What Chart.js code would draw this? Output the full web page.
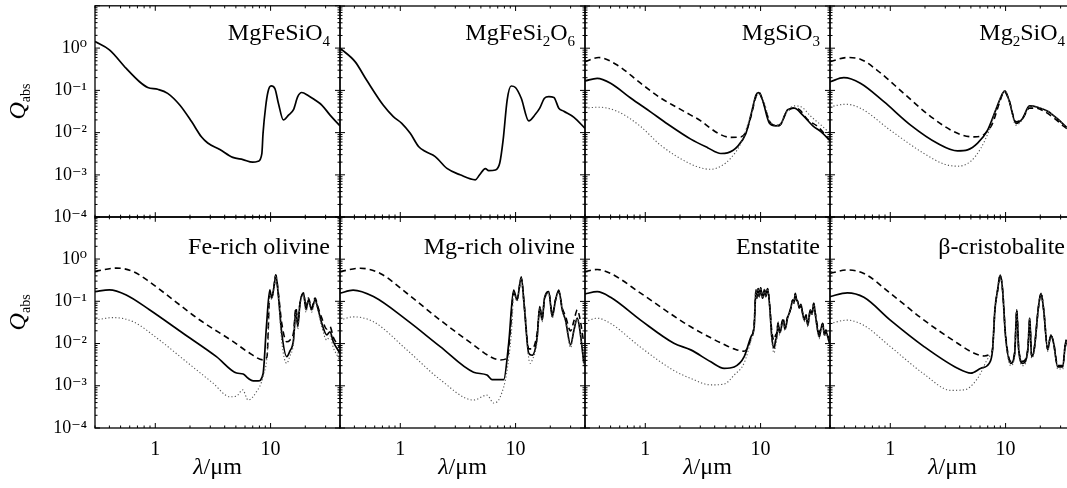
<!DOCTYPE html>
<html><head><meta charset="utf-8">
<script src="https://cdn.jsdelivr.net/npm/chart.js@4.4.1/dist/chart.umd.min.js"></script>
<style>
html,body{margin:0;padding:0;background:#fff;overflow:hidden;width:1067px;height:488px;position:relative}
canvas{position:absolute}
</style></head><body>
<script>
// ---------- tick labels ----------
const X_LABELS = [1, 10];
const X_MINOR = [0.3,0.4,0.5,0.6,0.7,0.8,0.9,2,3,4,5,6,7,8,9,20,30,40];
const Y_LABELS = [1e-4, 1e-3, 1e-2, 1e-1, 1];
const Y_MAJOR = [1e-4, 1e-3, 1e-2, 1e-1, 1, 10];

// ---------- panel 1: MgFeSiO4 ----------
const p1_solid_lam = [0.3,0.40,0.56,0.73,0.86,1.05,1.28,1.63,2.07,2.51,2.85,3.63,4.7,5.76,7.0,7.8,8.4,8.6,9.06,9.5,10.1,10.9,11.7,12.9,14.3,15.8,17.2,18.6,21.3,24.3,27.8,32.8,40];
const p1_solid_q   = [1.43,0.91,0.33,0.16,0.117,0.106,0.085,0.045,0.018,0.008,0.0057,0.0040,0.0026,0.0023,0.0020,0.0021,0.0032,0.0096,0.041,0.093,0.127,0.11,0.049,0.020,0.026,0.035,0.071,0.089,0.075,0.059,0.045,0.026,0.0145];

// ---------- panel 2: MgFeSi2O6 ----------
const p2_solid_lam = [0.3,0.405,0.51,0.71,0.87,1.03,1.22,1.44,1.64,2.01,2.54,3.3,4.47,4.88,5.47,5.84,6.68,7.29,7.8,8.45,9.15,9.97,11.2,13.0,14.9,16.2,17.8,19.4,21.5,23.7,26.2,32.1,40];
const p2_solid_q   = [1.0,0.48,0.176,0.045,0.024,0.0166,0.0096,0.0047,0.0036,0.0027,0.00142,0.0010,0.00076,0.0010,0.0014,0.00125,0.0013,0.0019,0.0067,0.059,0.127,0.117,0.065,0.019,0.0275,0.038,0.065,0.071,0.068,0.038,0.032,0.023,0.0126];

// ---------- panel 3: MgSiO3 ----------
const p3_dash_lam = [0.3,0.395,0.57,0.91,1.36,1.9,2.48,3.03,3.70,4.52,5.52,6.75,7.46,8.25,9.12,9.73,10.4,12.3,14.5,16.6,19.0,21.7,25.7,31.4,40];
const p3_dash_q   = [0.48,0.6,0.40,0.148,0.066,0.039,0.026,0.019,0.0125,0.0089,0.0077,0.0079,0.0104,0.024,0.071,0.089,0.059,0.0166,0.0145,0.029,0.038,0.035,0.020,0.0138,0.0065];
const p3_solid_lam = [0.3,0.383,0.50,0.746,1.11,1.56,2.48,3.47,4.52,5.17,6.32,7.46,8.25,9.12,9.62,10.4,11.9,13.6,15.0,17.2,19.6,23.2,28.4,33.5,40];
const p3_solid_q   = [0.167,0.193,0.148,0.066,0.031,0.016,0.0070,0.0044,0.0032,0.0033,0.0047,0.0096,0.026,0.078,0.089,0.059,0.017,0.0145,0.0161,0.035,0.038,0.026,0.0145,0.0104,0.0065];
const p3_dot_lam = [0.3,0.395,0.57,0.91,1.36,2.48,3.24,3.70,4.52,5.52,6.75,7.97,9.12,9.73,10.8,12.3,14.5,16.6,19.6,22.4,27.4,33.5,40];
const p3_dot_q   = [0.038,0.040,0.032,0.014,0.005,0.0018,0.0014,0.00135,0.0016,0.0025,0.0056,0.020,0.071,0.085,0.049,0.0166,0.015,0.029,0.043,0.041,0.024,0.015,0.0096];

// ---------- panel 4: Mg2SiO4 ----------
const p4_dash_lam = [0.3,0.424,0.55,0.77,1.31,2.24,3.83,5.34,6.52,7.71,8.8,9.73,10.7,12.3,14.1,16.1,18.4,21.6,26.4,32.3,40];
const p4_dash_q   = [0.48,0.6,0.55,0.30,0.085,0.024,0.0096,0.0079,0.0091,0.0166,0.049,0.093,0.059,0.018,0.022,0.038,0.038,0.032,0.022,0.0138,0.0095];
const p4_solid_lam = [0.3,0.395,0.55,0.88,1.50,2.56,3.83,4.68,5.72,6.98,8.24,9.42,9.87,10.7,12.3,14.1,16.1,19.0,23.2,28.3,34.6,40];
const p4_solid_q   = [0.16,0.20,0.148,0.054,0.0151,0.0056,0.0037,0.0039,0.0056,0.0114,0.035,0.085,0.098,0.059,0.0166,0.022,0.043,0.040,0.032,0.021,0.0126,0.0095];
const p4_dot_lam = [0.3,0.41,0.55,1.0,1.96,2.93,3.83,5.0,6.11,7.21,8.24,9.42,9.87,10.7,12.3,14.1,16.1,19.0,23.2,28.3,34.6,40];
const p4_dot_q   = [0.041,0.047,0.038,0.0114,0.0032,0.0018,0.0016,0.0021,0.0043,0.0114,0.035,0.085,0.098,0.059,0.015,0.021,0.042,0.040,0.032,0.021,0.0122,0.0085];

// ---------- panel 5: Fe-rich olivine ----------
const p5_dash_lam = [0.3,0.46,0.64,0.89,1.43,2.43,4.74,6.6,8.6,9.3,9.85,10.2,10.7,11.1,11.7,12.5,13.8,14.7,15.8,16.6,17.2,18.0,19.3,20.3,21.3,22.7,24.3,25.9,27.8,30.7,32.8,35.0,40];
const p5_dash_q   = [0.51,0.61,0.51,0.29,0.108,0.036,0.0111,0.0059,0.0041,0.0048,0.15,0.119,0.22,0.42,0.15,0.03,0.011,0.012,0.018,0.07,0.03,0.09,0.156,0.07,0.12,0.07,0.12,0.07,0.04,0.022,0.025,0.014,0.008];
const p5_solid_lam = [0.3,0.40,0.56,0.89,1.74,3.39,5.07,5.78,6.39,7.06,7.8,8.6,9.2,9.85,10.2,10.7,11.1,11.7,12.5,13.8,14.7,15.8,16.6,17.2,18.0,19.3,20.3,21.3,22.7,24.3,25.9,27.8,30.7,32.8,35.0,40];
const p5_solid_q   = [0.17,0.186,0.141,0.063,0.0175,0.0049,0.0020,0.0019,0.0015,0.0013,0.0013,0.0019,0.025,0.186,0.119,0.22,0.42,0.13,0.0175,0.0049,0.0066,0.012,0.063,0.025,0.090,0.156,0.063,0.108,0.063,0.108,0.063,0.030,0.016,0.019,0.011,0.0059];
const p5_dot_lam = [0.3,0.43,0.64,1.09,1.86,3.17,4.43,5.07,5.72,6.39,7.56,8.6,9.5,9.85,10.2,10.7,11.1,11.7,12.5,13.8,14.7,15.8,16.6,17.2,18.0,19.3,20.3,21.3,22.7,24.3,25.9,27.8,30.7,32.8,35.0,40];
const p5_dot_q   = [0.036,0.041,0.033,0.012,0.0037,0.00115,0.00055,0.00057,0.0008,0.00046,0.00073,0.00166,0.010,0.15,0.11,0.2,0.4,0.12,0.011,0.0034,0.005,0.01,0.055,0.022,0.08,0.14,0.055,0.1,0.055,0.1,0.055,0.025,0.012,0.015,0.008,0.004];

// ---------- panel 6: Mg-rich olivine ----------
const p6_dash_lam = [0.3,0.45,0.67,1.14,2.22,4.32,6.04,7.37,8.45,9.0,9.62,10.3,11.2,11.9,13.0,13.9,15.4,16.2,17.0,17.8,19.4,20.8,22.2,23.7,25.4,27.1,30,32.1,34.3,36.1,39.1];
const p6_dash_q   = [0.51,0.61,0.46,0.156,0.036,0.0093,0.0049,0.0041,0.0045,0.02,0.16,0.11,0.35,0.08,0.0075,0.0075,0.018,0.07,0.04,0.11,0.16,0.05,0.11,0.17,0.07,0.045,0.02,0.035,0.063,0.04,0.01];
const p6_solid_lam = [0.3,0.39,0.585,1.14,2.22,4.32,5.65,6.25,7.89,8.71,9.62,10.3,11.2,11.9,13.0,13.9,15.4,16.2,17.0,17.8,19.4,20.8,22.2,23.7,25.4,27.1,30,32.1,34.3,36.1,39.1];
const p6_solid_q   = [0.156,0.186,0.13,0.036,0.0085,0.0021,0.0018,0.0014,0.0014,0.010,0.186,0.108,0.38,0.075,0.0059,0.0053,0.0145,0.075,0.036,0.119,0.17,0.043,0.108,0.186,0.063,0.036,0.0093,0.021,0.040,0.021,0.0034];
const p6_dot_lam = [0.3,0.39,0.585,1.14,2.22,4.32,5.65,6.45,7.37,8.45,9.32,9.62,10.3,11.2,11.9,13.0,13.4,13.9,15.4,16.2,17.0,17.8,19.4,20.8,22.2,23.7,25.4,27.1,30,32.1,34.3,36.1,39.1];
const p6_dot_q   = [0.036,0.043,0.033,0.0071,0.0014,0.00046,0.0006,0.00039,0.00055,0.0024,0.03,0.16,0.1,0.36,0.07,0.0045,0.0034,0.004,0.012,0.07,0.033,0.11,0.16,0.04,0.1,0.17,0.06,0.033,0.008,0.02,0.038,0.02,0.003];

// ---------- panel 7: Enstatite ----------
const p7_lam = [0.3,0.383,0.50,0.91,1.77,2.48,3.70,4.83,5.90,7.21,8.25,8.8,9.12,9.3,9.53,9.75,10.0,10.4,10.8,11.1,11.5,12.0,12.5,13.1,13.5,13.8,14.2,14.6,15.0,15.4,15.9,16.2,16.6,17.1,17.7,18.3,19.0,19.5,20.0,20.5,21.0,21.7,22.4,23.2,24.0,24.8,25.7,26.3,27.0,27.9,28.9,29.6,30.3,31.3,32.3,33.4,34.6,35.7,36.9,39.5];
const p7_dash_q  = [0.51,0.57,0.46,0.157,0.045,0.025,0.0137,0.0095,0.0075,0.0066,0.013,0.03,0.186,0.12,0.2,0.13,0.21,0.12,0.19,0.13,0.2,0.08,0.02,0.012,0.016,0.018,0.032,0.02,0.024,0.034,0.038,0.025,0.028,0.042,0.052,0.07,0.108,0.09,0.156,0.11,0.099,0.07,0.085,0.052,0.04,0.048,0.03,0.042,0.063,0.05,0.09,0.06,0.04,0.024,0.018,0.024,0.030,0.019,0.021,0.012];
const p7_solid_q = [0.15,0.17,0.125,0.036,0.0102,0.0071,0.0037,0.0026,0.0028,0.0049,0.0145,0.025,0.186,0.12,0.2,0.13,0.21,0.12,0.19,0.13,0.2,0.075,0.0145,0.0078,0.012,0.0145,0.030,0.018,0.021,0.032,0.036,0.022,0.025,0.04,0.052,0.07,0.108,0.09,0.156,0.11,0.099,0.07,0.085,0.05,0.036,0.045,0.027,0.04,0.063,0.05,0.09,0.06,0.036,0.02,0.0145,0.022,0.030,0.016,0.019,0.0102];
const p7_dot_q   = [0.033,0.040,0.030,0.0082,0.0023,0.0015,0.00105,0.0011,0.0018,0.0035,0.012,0.025,0.186,0.12,0.2,0.13,0.21,0.12,0.19,0.13,0.2,0.07,0.012,0.006,0.009,0.012,0.028,0.016,0.02,0.03,0.034,0.02,0.024,0.038,0.05,0.068,0.105,0.088,0.15,0.105,0.095,0.068,0.08,0.047,0.033,0.042,0.025,0.038,0.06,0.047,0.085,0.055,0.033,0.018,0.013,0.02,0.028,0.015,0.017,0.009];

// ---------- panel 8: beta-cristobalite ----------
const p8_dash_lam = [0.3,0.424,0.59,1.0,1.96,3.83,5.34,6.52,7.46,7.71,8.08,8.53,8.98,9.42,10.0,11.1,12.0,12.5,13.0,14.1,15.6,16.2,16.8,17.7,19.3,20.3,21.4,23.2,24.7,26.1,28.3,31.3,33.4,36,40];
const p8_dash_q   = [0.46,0.555,0.46,0.156,0.036,0.0102,0.0059,0.0051,0.0059,0.0075,0.063,0.186,0.42,0.186,0.016,0.0038,0.0062,0.063,0.0075,0.0038,0.0075,0.040,0.0052,0.0075,0.075,0.156,0.063,0.0075,0.016,0.0105,0.003,0.003,0.012,0.0055,0.0045];
const p8_solid_lam = [0.3,0.424,0.59,1.0,1.96,3.83,5.0,6.11,7.21,7.71,8.08,8.53,8.98,9.42,10.0,11.1,12.0,12.5,13.0,14.1,15.6,16.2,16.8,17.7,19.3,20.3,21.4,23.2,24.7,26.1,28.3,31.3,33.4,36,40];
const p8_solid_q   = [0.13,0.16,0.125,0.036,0.0085,0.0026,0.002,0.0026,0.0034,0.0071,0.063,0.186,0.42,0.186,0.0145,0.0034,0.0059,0.063,0.0071,0.0034,0.0071,0.040,0.0049,0.0071,0.075,0.156,0.063,0.0071,0.016,0.0102,0.0028,0.0028,0.012,0.005,0.004];
const p8_dot_lam = [0.3,0.424,0.59,1.0,1.96,3.35,4.37,5.72,7.21,7.71,8.08,8.53,8.98,9.42,10.0,11.1,12.0,12.5,13.0,14.1,15.6,16.2,16.8,17.7,19.3,20.3,21.4,23.2,24.7,26.1,28.3,31.3,33.4,36,40];
const p8_dot_q   = [0.030,0.036,0.027,0.0085,0.0019,0.00078,0.0008,0.0015,0.0049,0.0071,0.063,0.186,0.42,0.186,0.013,0.003,0.0055,0.063,0.0065,0.003,0.0065,0.040,0.0045,0.0065,0.075,0.156,0.063,0.0065,0.016,0.0095,0.0025,0.0025,0.011,0.0045,0.0035];

// ---------- layout ----------
const LEFTS = [95, 340, 585, 830], TOPS = [6, 217], PW = 245, PH = 211;
const SERIF = '"Liberation Serif", "DejaVu Serif", serif';
const STYLES = {
  dash:  {borderColor:'#000', borderWidth:1.6, borderDash:[6,4]},
  solid: {borderColor:'#000', borderWidth:1.7, borderDash:[]},
  dot:   {borderColor:'#555', borderWidth:1.1, borderDash:[1.2,2.2]}
};
const SUP = {'0':'⁰','1':'¹','2':'²','3':'³','4':'⁴','-':'⁻'};
function supLabel(v){ const e = String(Math.round(Math.log10(v))); return '10' + e.split('').map(c=>SUP[c]).join(''); }

const framePlugin = {
  id:'frame',
  afterDatasetsDraw(chart){
    const {ctx, chartArea:{left,right,top,bottom}, scales:{x,y}} = chart;
    ctx.save();
    ctx.strokeStyle = '#000'; ctx.lineWidth = 1;
    const seg=(a,b,c,d)=>{ctx.beginPath();ctx.moveTo(a,b);ctx.lineTo(c,d);ctx.stroke();};
    X_LABELS.forEach(v=>{const p=x.getPixelForValue(v); seg(p,bottom,p,bottom-5); seg(p,top,p,top+5);});
    X_MINOR.forEach(v=>{const p=x.getPixelForValue(v); seg(p,bottom,p,bottom-2.5); seg(p,top,p,top+2.5);});
    Y_MAJOR.forEach(v=>{const p=y.getPixelForValue(v); seg(left,p,left+5,p); seg(right,p,right-5,p);});
    for (let e=-4; e<1; e++) for (let k=2; k<10; k++){ const p=y.getPixelForValue(k*Math.pow(10,e)); seg(left,p,left+2.5,p); seg(right,p,right-2.5,p); }
    ctx.lineWidth = 1.3;
    ctx.strokeRect(left, top, right-left, bottom-top);
    ctx.restore();
  }
};

const textPlugin = {
  id:'texts',
  afterDraw(chart, args, opts){
    const {ctx, chartArea:{left,right,top,bottom}} = chart;
    ctx.save(); ctx.fillStyle='#000';
    const parts = opts.label; const big = 24, small = 15;
    let total = 0;
    parts.forEach(p=>{ ctx.font = (p[1]?small:big)+'px '+SERIF; total += ctx.measureText(p[0]).width; });
    let xx = right - 10 - total; const base = top + opts.baseOff;
    ctx.textBaseline='alphabetic';
    parts.forEach(p=>{ ctx.font=(p[1]?small:big)+'px '+SERIF; ctx.fillText(p[0], xx, base + (p[1]?6:0)); xx += ctx.measureText(p[0]).width; });
    if (opts.ytitle){
      ctx.save();
      ctx.translate(25, (top+bottom)/2 - 10);
      ctx.rotate(-Math.PI/2);
      ctx.font = 'italic 24px '+SERIF;
      const wq = ctx.measureText('Q').width;
      ctx.font = '14px '+SERIF;
      const wa = ctx.measureText('abs').width;
      const start = -(wq+wa)/2;
      ctx.font = 'italic 24px '+SERIF; ctx.fillText('Q', start, 0);
      ctx.font = '14px '+SERIF; ctx.fillText('abs', start+wq, 5);
      ctx.restore();
    }
    if (opts.xtitle){
      ctx.font = 'italic 24px '+SERIF;
      const wl = ctx.measureText('λ').width;
      ctx.font = '24px '+SERIF;
      const wr = ctx.measureText('/μm').width;
      const cx = (left+right)/2, st = cx - (wl+wr)/2, by = bottom + 46;
      ctx.font = 'italic 24px '+SERIF; ctx.fillText('λ', st, by);
      ctx.font = '24px '+SERIF; ctx.fillText('/μm', st+wl, by);
    }
    ctx.restore();
  }
};

function buildChart(col, row, label, sets, w, h, padL, padR, padT, padB){
  const cv = document.createElement('canvas');
  cv.width = w; cv.height = h;
  cv.style.width = w+'px'; cv.style.height = h+'px';
  document.body.appendChild(cv);
  const chart = new Chart(cv, {
    type:'line',
    data:{ datasets: sets.map(s=>Object.assign({
      data: s.lam.map((v,i)=>({x:v, y:s.q[i]})),
      pointRadius:0, fill:false, cubicInterpolationMode:'monotone'
    }, STYLES[s.style])) },
    options:{
      responsive:false, maintainAspectRatio:false, animation:false, devicePixelRatio:1, events:[],
      layout:{padding:{top:padT, right:padR, left:0, bottom:0}},
      plugins:{legend:{display:false}, tooltip:{enabled:false},
        texts:{label, baseOff: row===0 ? 34 : 37, ytitle: col===0, xtitle: row===1}},
      scales:{
        x:{type:'logarithmic', min:0.3, max:40, position:'bottom',
          grid:{display:false, drawTicks:false}, border:{display:false},
          afterBuildTicks: s=>{ s.ticks = X_LABELS.map(v=>({value:v})); },
          afterFit: s=>{ s.height = padB; },
          ticks:{display: row===1, autoSkip:false, maxRotation:0, padding:10, color:'#000',
            font:{family:SERIF, size:20}, callback: v=>String(v)}},
        y:{type:'logarithmic', min:1e-4, max:10, position:'left',
          grid:{display:false, drawTicks:false}, border:{display:false},
          afterBuildTicks: s=>{ s.ticks = Y_LABELS.map(v=>({value:v})); },
          afterFit: s=>{ s.width = padL; },
          ticks:{display: col===0, autoSkip:false, padding:8, color:'#000',
            font:{family:SERIF, size:18}, callback: v=>supLabel(v)}}
      }
    },
    plugins:[framePlugin, textPlugin]
  });
  return {cv, chart};
}

function panel(col, row, label, sets){
  const padL = col===0 ? 95 : 12, padR = 12, padT = 14, padB = row===1 ? 70 : 14;
  const L = LEFTS[col], T = TOPS[row];
  let w = padL + PW + padR, h = padT + PH + padB;
  let r = buildChart(col,row,label,sets,w,h,padL,padR,padT,padB);
  for (let i=0;i<3;i++){
    const ca = r.chart.chartArea;
    const dw = Math.round(PW-(ca.right-ca.left)), dh = Math.round(PH-(ca.bottom-ca.top));
    if (dw===0 && dh===0) break;
    r.chart.destroy(); r.cv.remove();
    w += dw; h += dh;
    r = buildChart(col,row,label,sets,w,h,padL,padR,padT,padB);
  }
  const ca = r.chart.chartArea;
  r.cv.style.left = (L - ca.left)+'px';
  r.cv.style.top = (T - ca.top)+'px';
}

panel(0,0,[['MgFeSiO',0],['4',1]],[{lam:p1_solid_lam,q:p1_solid_q,style:'solid'}]);
panel(1,0,[['MgFeSi',0],['2',1],['O',0],['6',1]],[{lam:p2_solid_lam,q:p2_solid_q,style:'solid'}]);
panel(2,0,[['MgSiO',0],['3',1]],[
  {lam:p3_dot_lam,q:p3_dot_q,style:'dot'},{lam:p3_dash_lam,q:p3_dash_q,style:'dash'},{lam:p3_solid_lam,q:p3_solid_q,style:'solid'}]);
panel(3,0,[['Mg',0],['2',1],['SiO',0],['4',1]],[
  {lam:p4_dot_lam,q:p4_dot_q,style:'dot'},{lam:p4_dash_lam,q:p4_dash_q,style:'dash'},{lam:p4_solid_lam,q:p4_solid_q,style:'solid'}]);
panel(0,1,[['Fe-rich olivine',0]],[
  {lam:p5_dot_lam,q:p5_dot_q,style:'dot'},{lam:p5_dash_lam,q:p5_dash_q,style:'dash'},{lam:p5_solid_lam,q:p5_solid_q,style:'solid'}]);
panel(1,1,[['Mg-rich olivine',0]],[
  {lam:p6_dot_lam,q:p6_dot_q,style:'dot'},{lam:p6_dash_lam,q:p6_dash_q,style:'dash'},{lam:p6_solid_lam,q:p6_solid_q,style:'solid'}]);
panel(2,1,[['Enstatite',0]],[
  {lam:p7_lam,q:p7_dot_q,style:'dot'},{lam:p7_lam,q:p7_dash_q,style:'dash'},{lam:p7_lam,q:p7_solid_q,style:'solid'}]);
panel(3,1,[['β-cristobalite',0]],[
  {lam:p8_dot_lam,q:p8_dot_q,style:'dot'},{lam:p8_dash_lam,q:p8_dash_q,style:'dash'},{lam:p8_solid_lam,q:p8_solid_q,style:'solid'}]);
</script>
</body></html>
